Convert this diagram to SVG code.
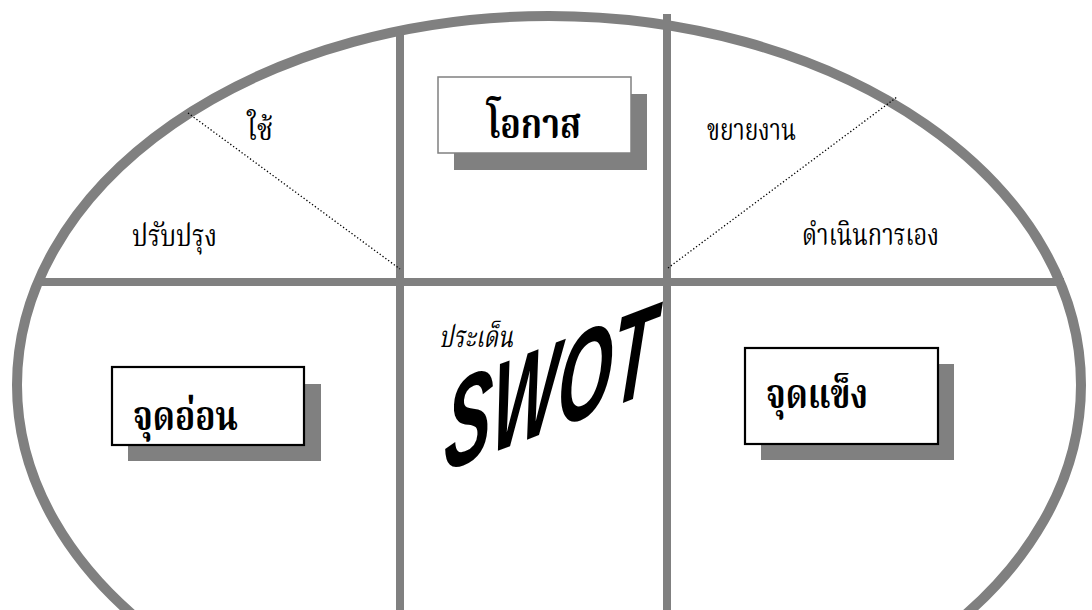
<svg xmlns="http://www.w3.org/2000/svg" width="1092" height="610" viewBox="0 0 1092 610">
  <style>
    .frame { fill: none; stroke: #808080; stroke-width: 10; }
    .grid { stroke: #808080; stroke-width: 8; fill: none; }
    .dot { stroke: #000000; stroke-width: 1.3; stroke-dasharray: 1.3 2.2; fill: none; }
    .shadow { fill: #808080; }
    .boxA { fill: #ffffff; stroke: #808080; stroke-width: 1.5; }
    .boxB { fill: #ffffff; stroke: #000000; stroke-width: 2.2; }
    .th { font-family: "Noto Serif Thai", "Noto Sans Thai", "Liberation Serif", serif; fill: #000000; }
    .lbl { font-size: 30px; }
    .big { font-size: 40px; font-weight: bold; }
    .swot { font-family: "Liberation Sans", Arial, sans-serif; font-weight: bold; font-style: italic; font-size: 125px; fill: #000000; }
  </style>
  <rect x="0" y="0" width="1092" height="610" fill="#ffffff"/>
  <g id="frame">
    <ellipse class="frame" cx="549" cy="385" rx="532" ry="369"/>
  </g>
  <g id="connectors">
    <line class="grid" x1="36" y1="282" x2="1064" y2="282"/>
    <line class="grid" x1="400" y1="28" x2="400" y2="610"/>
    <line class="grid" x1="667" y1="14" x2="667" y2="610"/>
    <line class="dot" x1="188" y1="113" x2="400" y2="269"/>
    <line class="dot" x1="668" y1="268" x2="897" y2="97"/>
  </g>
  <g id="opportunity">
    <rect class="shadow" x="454" y="94" width="193" height="76"/>
    <rect class="boxA" x="438" y="77" width="193" height="76"/>
    <text class="th big" x="487" y="138" textLength="94" lengthAdjust="spacingAndGlyphs">โอกาส</text>
  </g>
  <g id="weakness">
    <rect class="shadow" x="128" y="384" width="193" height="77"/>
    <rect class="boxB" x="112" y="367" width="192" height="78"/>
    <text class="th big" x="133" y="430" textLength="105" lengthAdjust="spacingAndGlyphs">จุดอ่อน</text>
  </g>
  <g id="strength">
    <rect class="shadow" x="761" y="364" width="193" height="96"/>
    <rect class="boxB" x="745" y="348" width="193" height="96"/>
    <text class="th big" x="766" y="408" textLength="102" lengthAdjust="spacingAndGlyphs">จุดแข็ง</text>
  </g>
  <g id="label-use">
    <text class="th lbl" x="247" y="140" textLength="26" lengthAdjust="spacingAndGlyphs">ใช้</text>
  </g>
  <g id="label-improve">
    <text class="th lbl" x="132" y="246" textLength="85" lengthAdjust="spacingAndGlyphs">ปรับปรุง</text>
  </g>
  <g id="label-expand">
    <text class="th lbl" x="707" y="140" textLength="89" lengthAdjust="spacingAndGlyphs">ขยายงาน</text>
  </g>
  <g id="label-self">
    <text class="th lbl" x="802" y="245" textLength="137" lengthAdjust="spacingAndGlyphs">ดำเนินการเอง</text>
  </g>
  <g id="center">
    <text class="th lbl" x="439" y="347" font-style="italic" textLength="74" lengthAdjust="spacingAndGlyphs">ประเด็น</text>
    <text class="swot" transform="translate(443,472) skewY(-21) scale(0.56,1) skewX(-6)">SWOT</text>
  </g>
</svg>
